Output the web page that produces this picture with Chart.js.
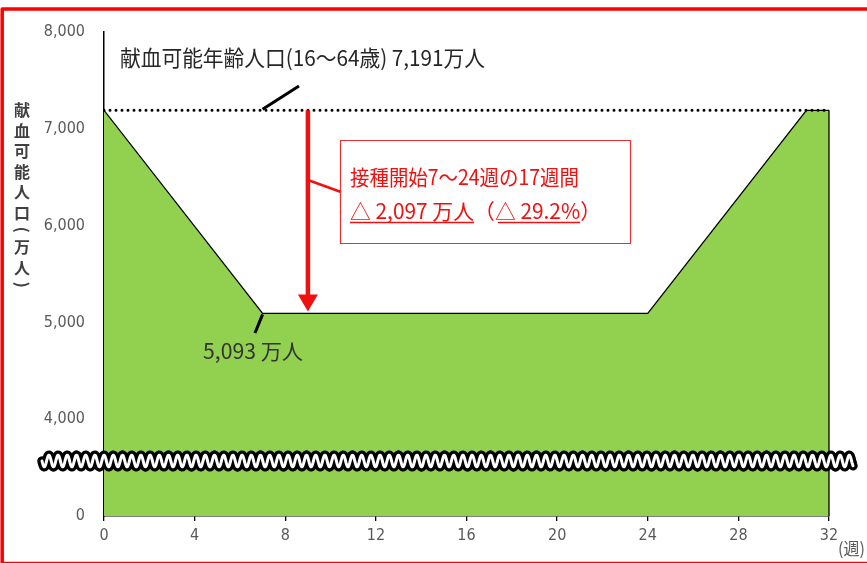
<!DOCTYPE html>
<html>
<head>
<meta charset="utf-8">
<script src="https://cdn.jsdelivr.net/npm/chart.js@4"></script>
<style>
  html, body { margin: 0; padding: 0; background: #fff; }
  canvas { display: block; }
</style>
</head>
<body>
<canvas id="c" width="867" height="563"></canvas>
<script>
// Weeks after the start of vaccination and the donor-eligible population (10,000 people)
const weeks = [0, 7, 24, 31, 32];
const donors = [7191, 5093, 5093, 7191, 7191];
const baseline = 7191;       // population aged 16-64
const trough = 5093;         // during weeks 7-24
const arrowWeek = 9;

const xTicks = [0, 4, 8, 12, 16, 20, 24, 28, 32];
const yTicks = [3000, 4000, 5000, 6000, 7000, 8000];
const yTickLabels = ['0', '4,000', '5,000', '6,000', '7,000', '8,000'];

const titleText = '献血可能年齢人口(16～64歳) 7,191万人';
const troughText = '5,093 万人';
const boxLine1 = '接種開始7～24週の17週間';
const boxLine2a = '△ 2,097 万人';
const boxLine2b = '（';
const boxLine2c = '△ 29.2%';
const boxLine2d = '）';
const yTitle = ['献', '血', '可', '能', '人', '口', '(', '万', '人', ')'];
const xUnit = '(週)';

const JP = '"Noto Sans CJK JP", "DejaVu Sans Condensed", sans-serif';
const NUM = '"DejaVu Sans Condensed", "Liberation Sans Narrow", sans-serif';
const RED = '#f01010';

// draw text squeezed/stretched horizontally to span a given width
function fitText(ctx, text, x, y, width, font, color) {
  ctx.save();
  ctx.font = font;
  ctx.fillStyle = color;
  ctx.textBaseline = 'middle';
  ctx.textAlign = 'left';
  const w = ctx.measureText(text).width;
  const k = width / w;
  ctx.translate(x, y);
  ctx.scale(k, 1);
  ctx.fillText(text, 0, 0);
  ctx.restore();
  return k;
}

const decorations = {
  id: 'decorations',
  beforeDraw(chart) {
    const ctx = chart.ctx;
    ctx.save();
    ctx.fillStyle = '#fff';
    ctx.fillRect(0, 0, chart.width, chart.height);
    ctx.restore();
  },
  afterDatasetsDraw(chart) {
    const ctx = chart.ctx;
    const xs = chart.scales.x, ys = chart.scales.y;
    const area = chart.chartArea;
    const px = v => xs.getPixelForValue(v);
    const py = v => ys.getPixelForValue(v);

    ctx.save();
    // closing edge of the shaded area at the last week
    ctx.strokeStyle = '#000';
    ctx.lineWidth = 1.3;
    ctx.beginPath();
    ctx.moveTo(px(weeks[weeks.length - 1]), py(donors[donors.length - 1]));
    ctx.lineTo(px(weeks[weeks.length - 1]), area.bottom);
    ctx.stroke();

    // axis break (wavy band)
    const wy = area.bottom - 55;
    const x0 = area.left - 62, x1 = area.right + 24;
    const period = 9.2, amp = 5.8;
    ctx.beginPath();
    for (let x = x0; x <= x1; x += 0.5) {
      const y = wy + amp * Math.sin((x - x0) / period * Math.PI * 2);
      if (x === x0) ctx.moveTo(x, y); else ctx.lineTo(x, y);
    }
    ctx.lineCap = 'round';
    ctx.lineJoin = 'round';
    ctx.strokeStyle = '#000';
    ctx.lineWidth = 9.5;
    ctx.stroke();
    ctx.strokeStyle = '#fff';
    ctx.lineWidth = 3;
    ctx.stroke();

    // red arrow: drop from baseline to trough
    const ax = px(arrowWeek);
    const ayTop = py(baseline), ayBot = py(trough) - 2;
    ctx.strokeStyle = RED;
    ctx.lineCap = 'butt';
    ctx.lineWidth = 4.5;
    ctx.beginPath();
    ctx.moveTo(ax, ayTop);
    ctx.lineTo(ax, ayBot - 14);
    ctx.stroke();
    ctx.fillStyle = RED;
    ctx.beginPath();
    ctx.moveTo(ax - 10, ayBot - 17);
    ctx.lineTo(ax + 10, ayBot - 17);
    ctx.lineTo(ax, ayBot);
    ctx.closePath();
    ctx.fill();

    // connector from the arrow to the box
    ctx.lineWidth = 2.5;
    ctx.beginPath();
    ctx.moveTo(ax, 180);
    ctx.lineTo(341, 192);
    ctx.stroke();

    // annotation box
    ctx.lineWidth = 1.2;
    ctx.strokeStyle = '#e83030';
    ctx.strokeRect(340.5, 140.5, 290, 103);

    // box text
    fitText(ctx, boxLine1, 350, 177, 229, '21px ' + JP, RED);
    const line2 = boxLine2a + boxLine2b + boxLine2c + boxLine2d;
    ctx.font = '21px ' + JP;
    const k = fitText(ctx, line2, 350, 211, 251, '21px ' + JP, RED);
    ctx.font = '21px ' + JP;
    const wa = ctx.measureText(boxLine2a).width * k;
    const wab = ctx.measureText(boxLine2a + boxLine2b).width * k;
    const wabc = ctx.measureText(boxLine2a + boxLine2b + boxLine2c).width * k;
    ctx.strokeStyle = RED;
    ctx.lineWidth = 1.5;
    ctx.beginPath();
    ctx.moveTo(350, 222.5); ctx.lineTo(350 + wa, 222.5);
    ctx.moveTo(350 + wab + 3, 222.5); ctx.lineTo(350 + wabc, 222.5);
    ctx.stroke();

    // leader lines
    ctx.strokeStyle = '#000';
    ctx.lineWidth = 3;
    ctx.beginPath();
    ctx.moveTo(px(7), py(baseline) - 1);
    ctx.lineTo(299, 86);
    ctx.moveTo(px(7), py(trough) + 1);
    ctx.lineTo(255, 333);
    ctx.stroke();

    // texts
    fitText(ctx, titleText, 120, 58, 365, '22px ' + JP, '#262626');
    fitText(ctx, troughText, 203, 351, 100, '21px ' + JP, '#333');
    fitText(ctx, xUnit, 838, 549, 27, '17px ' + JP, '#595959');

    // vertical axis title
    ctx.font = 'bold 16px ' + JP;
    ctx.fillStyle = '#404040';
    ctx.textAlign = 'center';
    ctx.textBaseline = 'middle';
    let y = 110;
    yTitle.forEach((ch, i) => {
      const paren = ch === '(' || ch === ')';
      if (i > 0) {
        const prevParen = yTitle[i - 1] === '(' || yTitle[i - 1] === ')';
        y += (prevParen ? 7 : 10.25) + (paren ? 7 : 10.25);
      }
      if (paren) {
        ctx.save();
        ctx.translate(22, y);
        ctx.rotate(Math.PI / 2);
        ctx.fillText(ch, 0, 0);
        ctx.restore();
      } else {
        ctx.fillText(ch, 22, y);
      }
    });

    // outer frame
    ctx.strokeStyle = '#ff0000';
    ctx.lineWidth = 3.5;
    ctx.strokeRect(2.2, 9, 900, 554.5);
    ctx.restore();
  }
};

new Chart(document.getElementById('c'), {
  type: 'line',
  data: {
    datasets: [
      {
        label: '献血可能年齢人口',
        data: [{ x: 0, y: baseline }, { x: 32, y: baseline }],
        borderColor: '#000',
        borderWidth: 3,
        borderDash: [0, 6],
        borderCapStyle: 'round',
        pointRadius: 0,
        fill: false,
        order: 0
      },
      {
        label: '献血可能人口',
        data: weeks.map((w, i) => ({ x: w, y: donors[i] })),
        backgroundColor: '#92D050',
        borderColor: '#000',
        borderWidth: 1.3,
        pointRadius: 0,
        tension: 0,
        fill: 'start',
        order: 1
      }
    ]
  },
  options: {
    responsive: false,
    animation: false,
    layout: { padding: { left: 0, top: 32, right: 38, bottom: 0 } },
    plugins: { legend: { display: false }, tooltip: { enabled: false } },
    scales: {
      x: {
        type: 'linear',
        min: 0, max: 32,
        afterBuildTicks: s => { s.ticks = xTicks.map(v => ({ value: v })); },
        afterFit: s => { s.height = 47; },
        ticks: { color: '#595959', font: { family: NUM, size: 16 }, padding: 5, maxRotation: 0 },
        grid: { display: true, drawOnChartArea: false, drawTicks: true, tickLength: 5, color: '#000', lineWidth: 1.3 },
        border: { display: true, color: '#000', width: 1.5 }
      },
      y: {
        min: 3000, max: 8000,
        afterBuildTicks: s => { s.ticks = yTicks.map(v => ({ value: v })); },
        afterFit: s => { s.width = 104; },
        ticks: {
          color: '#595959', font: { family: NUM, size: 16 }, padding: 19,
          callback: v => yTickLabels[yTicks.indexOf(v)]
        },
        grid: { display: false, drawTicks: false },
        border: { display: true, color: '#000', width: 1.5 }
      }
    }
  },
  plugins: [decorations]
});
</script>
</body>
</html>
